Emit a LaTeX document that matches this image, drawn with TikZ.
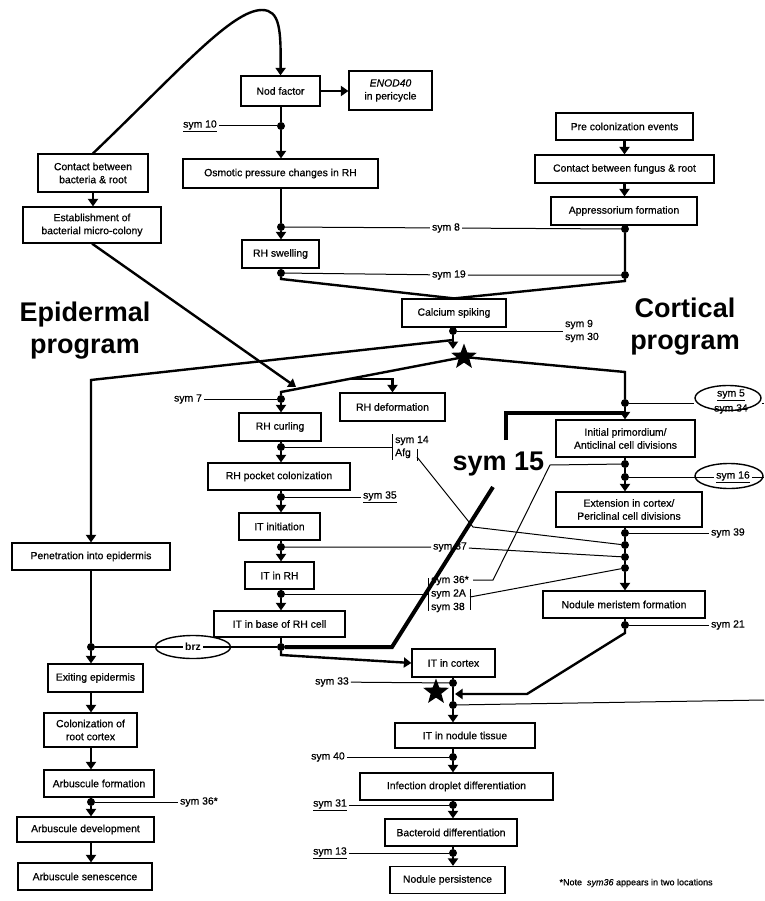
\documentclass[tikz,border=0pt]{standalone}
\usepackage{fontspec}
\setmainfont{Liberation Sans}
\newfontfamily\scanfont{Liberation Sans}[FakeBold=0.6]
\usetikzlibrary{arrows.meta,shapes.geometric}

\newcommand\boxfont{\scanfont\fontsize{10.4}{13}\selectfont}
\newcommand\bigfont{\bfseries\fontsize{27}{32}\selectfont}

\tikzset{
  box/.style={draw,line width=1.2pt,align=center,font=\boxfont,inner sep=2pt},
  dot/.style={circle,fill,inner sep=0pt,minimum size=8pt},
  flow/.style={line width=2.4pt},
  arr/.style={flow,-{Triangle[width=10pt,length=7.5pt]}},
  symline/.style={line width=1pt},
  thick15/.style={line width=4pt},
  lbl/.style={font=\boxfont,inner sep=2pt},
  oval/.style={draw,ellipse,line width=1.4pt},
  starmark/.style={star,star points=5,star point ratio=2.4,fill,inner sep=0pt,minimum size=27pt}
}

\begin{document}
\begin{tikzpicture}[x=1pt,y=-1pt]
\fill[white] (0,0) rectangle (764,901);
\useasboundingbox (0,0) rectangle (764,901);

% boxes, epidermal side
\node[box,minimum width=110pt,minimum height=38pt] (cbr) at (93,173) {Contact between\\bacteria \& root};
\node[box,minimum width=138pt,minimum height=36pt] (est) at (92,225) {Establishment of\\bacterial micro-colony};
\node[box,minimum width=79pt,minimum height=30pt] (nod) at (280.5,91) {Nod factor};
\node[box,minimum width=83pt,minimum height=39pt] (enod) at (390.5,90.5) {\textit{ENOD40}\\in pericycle};
\node[box,minimum width=195pt,minimum height=29pt] (osm) at (280.5,173.5) {Osmotic pressure changes in RH};
\node[box,minimum width=77pt,minimum height=28pt] (swell) at (280.5,254) {RH swelling};
\node[box,minimum width=104pt,minimum height=28pt] (calc) at (454,313) {Calcium spiking};
\node[box,minimum width=82pt,minimum height=28pt] (curl) at (280,427) {RH curling};
\node[box,minimum width=105pt,minimum height=28pt] (deform) at (392.5,407) {RH deformation};
\node[box,minimum width=142pt,minimum height=27pt] (pocket) at (279,476.5) {RH pocket colonization};
\node[box,minimum width=81pt,minimum height=27pt] (itini) at (279.5,526.5) {IT initiation};
\node[box,minimum width=69pt,minimum height=27pt] (itrh) at (279.5,575.5) {IT in RH};
\node[box,minimum width=131pt,minimum height=26pt] (itbase) at (279.5,624) {IT in base of RH cell};
\node[box,minimum width=158pt,minimum height=27pt] (pen) at (91,556.5) {Penetration into epidermis};
\node[box,minimum width=95pt,minimum height=28pt] (exit) at (95.5,678) {Exiting epidermis};
\node[box,minimum width=93pt,minimum height=34pt] (col) at (90.5,730) {Colonization of\\root cortex};
\node[box,minimum width=110pt,minimum height=27pt] (arbf) at (99,783.5) {Arbuscule formation};
\node[box,minimum width=137pt,minimum height=25pt] (arbd) at (85.5,829.5) {Arbuscule development};
\node[box,minimum width=134pt,minimum height=27pt] (arbs) at (85,876.5) {Arbuscule senescence};

% boxes, cortical side
\node[box,minimum width=137pt,minimum height=27pt] (pre) at (624.5,126.5) {Pre colonization events};
\node[box,minimum width=179pt,minimum height=28pt] (cfr) at (624.5,169) {Contact between fungus \& root};
\node[box,minimum width=146pt,minimum height=28pt] (app) at (624,211) {Appressorium formation};
\node[box,minimum width=139pt,minimum height=37pt] (prim) at (625.5,438.5) {Initial primordium/\\Anticlinal cell divisions};
\node[box,minimum width=146pt,minimum height=35pt] (ext) at (629,509.5) {Extension in cortex/\\Periclinal cell divisions};
\node[box,minimum width=162pt,minimum height=27pt] (mer) at (624,604.5) {Nodule meristem formation};
\node[box,minimum width=83pt,minimum height=28pt] (itcx) at (453.5,663) {IT in cortex};
\node[box,minimum width=140pt,minimum height=25pt] (itnod) at (465,735.5) {IT in nodule tissue};
\node[box,minimum width=193pt,minimum height=27pt] (drop) at (456.5,786.5) {Infection droplet differentiation};
\node[box,minimum width=132pt,minimum height=27pt] (bact) at (451,832.5) {Bacteroid differentiation};
\node[box,minimum width=115pt,minimum height=27pt] (pers) at (447.5,880) {Nodule persistence};

% junction dots
\foreach \n/\x/\y in {d10/281/126,d8/281/227,d8r/625/229,d19/281/273,d19r/625/275,
  d9/453/331,d7/281/399,d14/281/447,d35/281/497,d37/281/547,d2a/281/594,
  dbase/281/647,dbrz/91/647,d36l/91/802,d5/625/403,d36r/625/464,d16/625/477,
  d39/625/533,dafg/625/545,d37r/625/557,d2ar/625/568,d21/625/625,
  d33/453/683,dlong/453/705,d40/453/757,d31/453/805,d13/453/853}
  {\node[dot] (\n) at (\x,\y) {};}

\node[starmark] (star1) at (464,357) {};
\node[starmark] (star2) at (436,692) {};

% titles
\node[font=\bigfont,align=center] (epi) at (85,331) {Epidermal\\program};
\node[font=\bigfont,align=center] (cor) at (685,327) {Cortical\\program};

% main flow
\draw[arr] (cbr.north) .. controls (180,70) and (232,10) .. (262,10)
  .. controls (280,10) and (281,30) .. (nod.north);
\draw[arr] (cbr.south) -- (cbr.south |- est.north);
\draw[arr] (nod.east) -- (enod.west |- nod.east);
\draw[flow] (nod.south -| d10) -- (d10);
\draw[arr] (d10) -- (d10 |- osm.north);
\draw[flow] (osm.south -| d8) -- (d8);
\draw[arr] (d8) -- (d8 |- swell.north);
\draw[flow] (swell.south -| d19) -- (d19) -- (281,279) -- (calc.north);
\draw[arr] (pre.south) -- (pre.south |- cfr.north);
\draw[arr] (cfr.south) -- (cfr.south |- app.north);
\draw[flow] (app.south -| d8r) -- (d8r) -- (d19r) -- (625,281) -- (calc.north);
\draw[flow] (calc.south -| d9) -- (d9);
\draw[arr] (d9) -- (453,349);
\coordinate (fork) at (453,340);
\draw[arr] (fork) -- (91,380) -- (pen.north);
\draw[flow] (star1.center) -- (625,372) -- (d5);
\draw[arr] (d5) -- (d5 |- prim.north);
\draw[flow] (star1.center) -- (281,392) -- (d7);
\draw[arr] (d7) -- (d7 |- curl.north);
\coordinate (defb) at (347,379);
\draw[arr] (defb) -- (392.5,379) -- (deform.north);
\draw[arr] (est.south) -- (296,387);

% epidermal column
\draw[flow] (curl.south -| d14) -- (d14);
\draw[arr] (d14) -- (d14 |- pocket.north);
\draw[flow] (pocket.south -| d35) -- (d35);
\draw[arr] (d35) -- (d35 |- itini.north);
\draw[flow] (itini.south -| d37) -- (d37);
\draw[arr] (d37) -- (d37 |- itrh.north);
\draw[flow] (itrh.south -| d2a) -- (d2a);
\draw[arr] (d2a) -- (d2a |- itbase.north);
\draw[flow] (itbase.south -| dbase) -- (dbase);
\draw[arr] (dbase) -- (281,655) -- (itcx.west);
\draw[flow] (pen.south -| dbrz) -- (dbrz);
\draw[arr] (dbrz) -- (dbrz |- exit.north);
\draw[arr] (exit.south -| dbrz) -- (dbrz |- col.north);
\draw[arr] (col.south -| dbrz) -- (dbrz |- arbf.north);
\draw[flow] (arbf.south -| d36l) -- (d36l);
\draw[arr] (d36l) -- (d36l |- arbd.north);
\draw[arr] (arbd.south -| dbrz) -- (dbrz |- arbs.north);

% cortical column
\draw[flow] (prim.south -| d36r) -- (d36r) -- (d16);
\draw[arr] (d16) -- (d16 |- ext.north);
\draw[flow] (ext.south -| d39) -- (d39) -- (dafg) -- (d37r) -- (d2ar);
\draw[arr] (d2ar) -- (d2ar |- mer.north);
\draw[flow] (mer.south -| d21) -- (d21);
\draw[arr] (d21) -- (625,633) -- (527,694) -- (455,694);
\draw[flow] (itcx.south -| d33) -- (d33) -- (dlong);
\draw[arr] (dlong) -- (dlong |- itnod.north);
\draw[flow] (itnod.south -| d40) -- (d40);
\draw[arr] (d40) -- (d40 |- drop.north);
\draw[flow] (drop.south -| d31) -- (d31);
\draw[arr] (d31) -- (d31 |- bact.north);
\draw[flow] (bact.south -| d13) -- (d13);
\draw[arr] (d13) -- (d13 |- pers.north);

% sym labels
\node[lbl] (s10) at (200,126) {\underline{sym 10}};
\draw[symline] (s10) -- (d10);
\node[lbl] (s8) at (446,228) {sym 8};
\draw[symline] (d8) -- (s8) -- (d8r);
\node[lbl] (s19) at (449,275) {sym 19};
\draw[symline] (d19) -- (s19) -- (d19r);
\node[lbl,anchor=west,align=left] (s9) at (563,331) {sym 9\\sym 30};
\draw[symline] (d9) -- (s9.west);
\node[lbl] (s7) at (188,399) {sym 7};
\draw[symline] (s7) -- (d7);

\node[lbl,anchor=west,align=left] (s14) at (393,447) {sym 14\\Afg};
\coordinate (afgb) at (417,457);
\draw[symline] (d14) -- (392,447);
\draw[symline] (392,434) -- (392,460);
\draw[symline] (417,449) -- (417,461);
\draw[symline] (afgb) -- (473,527) -- (dafg);

\node[lbl,anchor=west] (s35) at (361,497) {\underline{sym 35}};
\draw[symline] (d35) -- (s35);
\node[lbl] (s37) at (450,547) {sym 37};
\draw[symline] (d37) -- (s37) -- (d37r);

\node[lbl,anchor=west,align=left,font=\scanfont\fontsize{10.4}{13.5}\selectfont] (s2a) at (429,594) {sym 36*\\sym 2A\\sym 38};
\draw[symline] (d2a) -- (428,594);
\draw[symline] (428,578) -- (428,611);
\draw[symline] (470,589) -- (470,610);
\draw[symline] (470,597) -- (d2ar);
\draw[symline] (473,580) -- (493,580) -- (550,465) -- (d36r);

% sym 15
\draw[thick15] (dbase) -- (392,647) -- (493,487);
\node[font=\bigfont,anchor=base] (s15) at (498.5,470) {sym 15};
\draw[thick15] (506,440) -- (506,413) -- (625,413);

% brz
\node[lbl,font=\bfseries\fontsize{10.4}{13}\selectfont] (brzt) at (193,647) {brz};
\node[oval,minimum width=75pt,minimum height=23pt] (brz) at (193,647) {};
\draw[symline,line width=1.2pt] (dbrz) -- (brzt);
\draw[symline,line width=1.2pt] (brzt) -- (dbase);

% sym 5 / sym 34
\node[oval,minimum width=66pt,minimum height=25pt] (e5) at (728,398) {};
\node[lbl] (s5) at (731,395) {\underline{sym 5}};
\node[lbl] (s34) at (731,409) {sym 34};
\coordinate (edge5) at (764,403);
\draw[symline] (d5) -- (e5.west |- d5);
\draw[symline] (e5.east |- d5) -- (edge5);

% sym 16
\node[lbl] (s16) at (733,477) {\underline{sym 16}};
\node[oval,minimum width=68pt,minimum height=25pt] (e16) at (729,476) {};
\coordinate (edge16) at (764,477);
\draw[symline] (d16) -- (s16);
\draw[symline] (s16) -- (edge16);

\node[lbl,anchor=west] (s39) at (709,533) {sym 39};
\draw[symline] (d39) -- (s39);
\node[lbl,anchor=west] (s21) at (709,625) {sym 21};
\draw[symline] (d21) -- (s21);
\node[lbl] (s33) at (332,682) {sym 33};
\draw[symline] (s33) -- (d33);
\coordinate (edgel) at (764,700);
\draw[symline] (dlong) -- (edgel);
\node[lbl] (s40) at (328,757) {sym 40};
\draw[symline] (s40) -- (d40);
\node[lbl] (s31) at (330,805) {\underline{sym 31}};
\draw[symline] (s31) -- (d31);
\node[lbl] (s13) at (330,853) {\underline{sym 13}};
\draw[symline] (s13) -- (d13);
\node[lbl,anchor=west] (s36) at (178,802) {sym 36*};
\draw[symline] (d36l) -- (s36);

\node[anchor=west,font=\scanfont\fontsize{9}{11}\selectfont] (note) at (556,883) {*Note\ \ \textit{sym36} appears in two locations};
\end{tikzpicture}
\end{document}
